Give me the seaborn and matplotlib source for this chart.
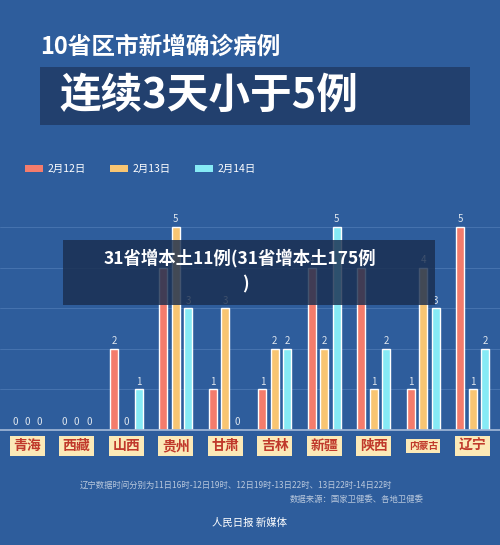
import matplotlib
matplotlib.use("Agg")
import matplotlib.pyplot as plt
import seaborn as sns
import pandas as pd
from matplotlib.patches import Rectangle

provinces = ["青海", "西藏", "山西", "贵州", "甘肃", "吉林", "新疆", "陕西", "内蒙古", "辽宁"]
dates = ["2月12日", "2月13日", "2月14日"]
v12 = [0, 0, 2, 4, 1, 1, 4, 4, 1, 5]
v13 = [0, 0, 0, 5, 3, 2, 2, 1, 4, 1]
v14 = [0, 0, 1, 3, 0, 2, 5, 2, 3, 2]
colors = ["#f47c6c", "#f8c572", "#86eaf5"]

rows = []
for d, vals in zip(dates, [v12, v13, v14]):
    for p, v in zip(provinces, vals):
        rows.append({"省份": p, "日期": d, "病例": v})
df = pd.DataFrame(rows)

sns.set_theme(style="white")
plt.rcParams['font.family'] = ['Noto Sans CJK SC', 'DejaVu Sans']
bg = "#2e5d9c"
fig = plt.figure(figsize=(5, 5.45), dpi=100, facecolor=bg)

ax = fig.add_axes([0.0, 1 - 430/545, 1.0, 215/545])
ax.set_facecolor(bg)
sns.barplot(data=df, x="省份", y="病例", hue="日期", palette=colors, ax=ax,
            width=0.75, gap=0.35, legend=False, saturation=1)
ax.set_ylim(0, 5.3)
ax.set_xlim(-0.55, 9.55)
for y in range(1, 6):
    ax.axhline(y, color="#4a77b2", lw=0.6, zorder=0)
for c in ax.containers:
    ax.bar_label(c, fmt="%d", color="#dfe6ee", fontsize=7, padding=2)
ax.set_xticks([]); ax.set_xlabel(""); ax.set_ylabel(""); ax.set_yticks([])
for s in ax.spines.values():
    s.set_visible(False)
ax.spines["bottom"].set_visible(True); ax.spines["bottom"].set_color("#9fb6d6")

for i, p in enumerate(provinces):
    xf = (i + 0.55) / 10.1
    fig.text(xf, 1 - 446/545, p, ha="center", va="center", fontsize=10 if len(p) < 3 else 7,
             color="#c0392b", fontweight="bold",
             bbox=dict(boxstyle="square,pad=0.25", fc="#fbe9b7", ec="none"))

fig.text(0.08, 1 - 47/545, "10省区市新增确诊病例", color="white", fontsize=17, fontweight="bold", va="center")
fig.patches.append(Rectangle((0.08, 1 - 125/545), 0.86, 58/545, transform=fig.transFigure,
                             fc="#22406e", ec="none"))
fig.text(0.12, 1 - 96/545, "连续3天小于5例", color="white", fontsize=30, fontweight="bold", va="center")

for k, (d, c) in enumerate(zip(dates, colors)):
    x0 = 0.05 + k * 0.17
    fig.patches.append(Rectangle((x0, 1 - 172/545), 0.035, 7/545, transform=fig.transFigure, fc=c, ec="none"))
    fig.text(x0 + 0.045, 1 - 169/545, d, color="white", fontsize=7.5, va="center")

fig.text(0.16, 1 - 485/545, "辽宁数据时间分别为11日16时-12日19时、12日19时-13日22时、13日22时-14日22时",
         color="#b9c8dc", fontsize=6, va="center")
fig.text(0.58, 1 - 499/545, "数据来源：国家卫健委、各地卫健委", color="#b9c8dc", fontsize=6, va="center")
fig.text(0.5, 1 - 523/545, "人民日报 新媒体", color="white", fontsize=7.5, ha="center", va="center")

fig.patches.append(Rectangle((0.125, 1 - 305/545), 0.745, 65/545, transform=fig.transFigure,
                             fc="#1a2e4f", ec="none", alpha=0.82, zorder=10))
fig.text(0.48, 1 - 258/545, "31省增本土11例(31省增本土175例", color="white", fontsize=12.5,
         fontweight="bold", ha="center", va="center", zorder=11)
fig.text(0.49, 1 - 284/545, ")", color="white", fontsize=12.5, fontweight="bold",
         ha="center", va="center", zorder=11)

fig.savefig("out.png", dpi=100, facecolor=bg)
